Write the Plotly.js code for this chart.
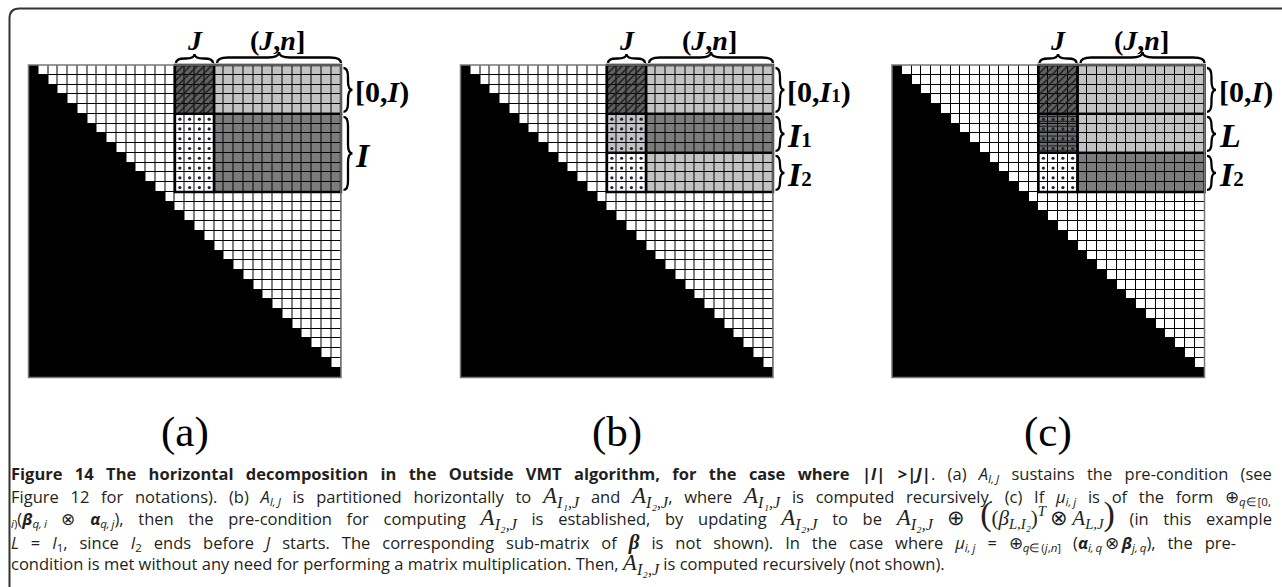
<!DOCTYPE html>
<html><head><meta charset="utf-8">
<script src="https://cdn.plot.ly/plotly-3.0.1.min.js"></script>
<style>html,body{margin:0;padding:0;background:#fff}#chart{width:1282px;height:587px}</style>
</head><body><div id="chart"></div>
<script>
// ---------- data ----------
const N = 32;                          // matrix size (cells per side)
const colBounds = [15, 19, 32];        // J starts, (J,n] starts, n
const rowBounds = [[0,5,13],[0,5,9,13],[0,5,9,13]];   // row groups per panel
const rowLabels = [['[0,I)','I'],['[0,I1)','I1','I2'],['[0,I)','L','I2']];
const topLabels = ['J','(J,n]'];
const panelLabels = ['(a)','(b)','(c)'];
// fill of the J column block and the (J,n] block for each row group
const jFill  = [['hatch','dots'],['hatch','grayDots','dots'],['hatch','hlineDots','dots']];
const jnFill = [['light','dark'],['light','dark','light'],['light','light','dark']];

// ---------- geometry ----------
const W = 1282, H = 587;
const panelLeft = [28.5, 460.5, 892];
const side = 312.5, topY = 65;
const cell = side / N;
const px = x => x / W, py = y => 1 - y / H;

const zOf = {white:1, light:2, dark:3, hatch:4, dots:1, grayDots:2, hlineDots:5};
const colorscale = [[0,'#000'],[0.1,'#000'],[0.1,'#fff'],[0.3,'#fff'],[0.3,'#c2c2c2'],[0.5,'#c2c2c2'],
  [0.5,'#7c7c7c'],[0.7,'#7c7c7c'],[0.7,'#626262'],[0.9,'#626262'],[0.9,'#6f6f6f'],[1,'#6f6f6f']];

const traces = [], shapes = [], annotations = [];
const layout = {width:W, height:H, margin:{l:0,r:0,t:0,b:0}, paper_bgcolor:'#fff', plot_bgcolor:'#000',
  showlegend:false, hovermode:false, barmode:'overlay'};

function fmt(s, size){
  return '<b>' + s.replace(/([IJLn])(\d?)/g, (m,l,d) => `<i>${l}</i>` + (d ? `<span style="font-size:${Math.round(size*0.62)}px">${d}</span>` : '')) + '</b>';
}
function pathStr(cmds){
  return cmds.map(c => {
    const pts = [];
    for (let i = 1; i < c.length; i += 2) pts.push(px(c[i]).toFixed(5) + ',' + py(c[i+1]).toFixed(5));
    return c[0] + ' ' + pts.join(' ');
  }).join(' ');
}
function hBrace(x0,x1,yb,h){
  const xm=(x0+x1)/2, r=Math.min(h,(x1-x0)/4), ym=yb-h/2, yt=yb-h;
  return pathStr([['M',x0,yb],['Q',x0,ym,x0+r,ym],['L',xm-r,ym],['Q',xm,ym,xm,yt],['Q',xm,ym,xm+r,ym],['L',x1-r,ym],['Q',x1,ym,x1,yb]]);
}
function vBrace(x0,w,y0,y1){
  const xm=x0+w/2, xt=x0+w, r=Math.min(w,(y1-y0)/4), ymid=(y0+y1)/2;
  return pathStr([['M',x0,y0],['Q',xm,y0,xm,y0+r],['L',xm,ymid-r],['Q',xm,ymid,xt,ymid],['Q',xm,ymid,xm,ymid+r],['L',xm,y1-r],['Q',xm,y1,x0,y1]]);
}

for (let p = 0; p < 3; p++){
  const sfx = p === 0 ? '' : String(p+1);
  const xa = 'x'+sfx, ya = 'y'+sfx;
  const L = panelLeft[p];
  layout['xaxis'+sfx] = {domain:[px(L), px(L+side)], range:[0,N], visible:false, fixedrange:true, anchor:ya};
  layout['yaxis'+sfx] = {domain:[py(topY+side), py(topY)], range:[N,0], visible:false, fixedrange:true, anchor:xa};
  const rb = rowBounds[p];
  const z = [];
  for (let i = 0; i < N; i++){
    const row = [];
    for (let j = 0; j < N; j++){
      let v = j <= i ? 0 : 1;
      if (v && i < rb[rb.length-1] && j >= colBounds[0]){
        const g = rb.findIndex((b,k)=> k < rb.length-1 && i >= b && i < rb[k+1]);
        v = j < colBounds[1] ? zOf[jFill[p][g]] : zOf[jnFill[p][g]];
      }
      row.push(v);
    }
    z.push(row);
  }
  const centers = Array.from({length:N}, (_,k)=> k+0.5);
  traces.push({type:'heatmap', x:centers, y:centers, z:z, zmin:0, zmax:5, colorscale:colorscale,
    showscale:false, xgap:1, ygap:1, xaxis:xa, yaxis:ya, hoverinfo:'skip'});
  const dx = [], dy = [];
  for (let g = 0; g < rb.length-1; g++){
    const f = jFill[p][g];
    if (f === 'hatch' || f === 'hlineDots'){
      traces.push({type:'bar', x:[(colBounds[0]+colBounds[1])/2], y:[rb[g+1]-rb[g]], base:[rb[g]],
        width:[colBounds[1]-colBounds[0]], xaxis:xa, yaxis:ya, hoverinfo:'skip',
        marker:{color:'rgba(0,0,0,0)', line:{width:0},
          pattern: f==='hatch' ? {shape:'/', fgcolor:'#1e1e1e', bgcolor:'rgba(0,0,0,0)', size:5, solidity:0.3}
                               : {shape:'-', fgcolor:'#1e1e1e', bgcolor:'rgba(0,0,0,0)', size:4.9, solidity:0.25}}});
    }
    if (f.toLowerCase().includes('dots')){
      for (let i = rb[g]; i < rb[g+1]; i++) for (let j = colBounds[0]; j < colBounds[1]; j++){ dx.push(j+0.5); dy.push(i+0.55); }
    }
    [[colBounds[0],colBounds[1]],[colBounds[1],colBounds[2]]].forEach(([c0,c1])=>{
      shapes.push({type:'rect', xref:xa+' domain', yref:ya+' domain', x0:c0/N, x1:c1/N, y0:1-rb[g+1]/N, y1:1-rb[g]/N,
        line:{color:'#000', width:2.4}, fillcolor:'rgba(0,0,0,0)', layer:'above'});
    });
    const y0 = topY + rb[g]*cell + 3, y1 = topY + rb[g+1]*cell - 2;
    shapes.push({type:'path', xref:'paper', yref:'paper', path:vBrace(L+side+2.5, 9, y0, y1), line:{color:'#000', width:2.3}});
    const lab = rowLabels[p][g];
    const lsz = lab.length <= 2 ? 34 : 30;
    annotations.push({xref:'paper', yref:'paper', x:px(L+side+12), y:py((y0+y1)/2+2), xanchor:'left', yanchor:'middle',
      text:fmt(lab, lsz), showarrow:false, font:{family:'Liberation Serif', size:lsz, color:'#000'}});
  }
  traces.push({type:'scatter', mode:'markers', x:dx, y:dy, xaxis:xa, yaxis:ya, hoverinfo:'skip',
    marker:{size:3.2, color:'#18233c'}});
  shapes.push({type:'rect', xref:xa+' domain', yref:ya+' domain', x0:0, x1:1, y0:0, y1:1, line:{color:'#777', width:1.5}, layer:'above'});
  const jx0 = L + colBounds[0]*cell, jx1 = L + colBounds[1]*cell, nx1 = L + colBounds[2]*cell;
  shapes.push({type:'path', xref:'paper', yref:'paper', path:hBrace(jx0+1, jx1-1, 63, 9), line:{color:'#000', width:2.3}});
  shapes.push({type:'path', xref:'paper', yref:'paper', path:hBrace(jx1+3, nx1, 63, 11), line:{color:'#000', width:2.3}});
  annotations.push({xref:'paper', yref:'paper', x:px((jx0+jx1)/2), y:py(41), xanchor:'center', yanchor:'middle',
    text:fmt(topLabels[0], 28), showarrow:false, font:{family:'Liberation Serif', size:28, color:'#000'}});
  annotations.push({xref:'paper', yref:'paper', x:px((jx1+nx1)/2), y:py(41), xanchor:'center', yanchor:'middle',
    text:fmt(topLabels[1], 28), showarrow:false, font:{family:'Liberation Serif', size:28, color:'#000'}});
  annotations.push({xref:'paper', yref:'paper', x:px(L+side/2), y:py(432), xanchor:'center', yanchor:'middle',
    text:panelLabels[p], showarrow:false, font:{family:'Liberation Serif', size:43, color:'#000'}});
}

const fr = 10;
shapes.push({type:'path', xref:'paper', yref:'paper', line:{color:'#333', width:2},
  path: pathStr([['M',9.5,600],['L',9.5,8.5+fr],['Q',9.5,8.5,9.5+fr,8.5],['L',1290,8.5]])});

const T = '\u2009';   // thin space (not stretched by justification)
const MA = s => `<span style="font-family:'Liberation Serif';font-size:23px"><i>A</i><sub><i>${s}</i></sub></span>`;
const SERIF = s => `<span style="font-family:'Liberation Serif';font-size:21px">${s}</span>`;
const BIG = s => `<span style="font-family:'Liberation Serif';font-size:34px">${s}</span>`;
const captionLines = [
  `<b>Figure 14 The horizontal decomposition in the Outside VMT algorithm, for the case where |<i>I</i>| &gt;|<i>J</i>|</b>. (a) <i>A</i><sub><i>I,${T}J</i></sub> sustains the pre-condition (see`,
  `Figure 12 for notations). (b) <i>A</i><sub><i>I,${T}J</i></sub> is partitioned horizontally to ${MA('I₁,J')} and ${MA('I₂,J')}, where ${MA('I₁,J')} is computed recursively. (c) If <i>μ</i><sub><i>i,${T}j</i></sub> is of the form ⊕<sub><i>q</i>∈${T}[0,</sub>`,
  `<sub><i>i</i>)</sub>(<b><i>β</i></b><sub><i>q,${T}i</i></sub> ⊗ <b><i>α</i></b><sub><i>q,${T}j</i></sub>), then the pre-condition for computing ${MA('I₂,J')} is established, by updating ${MA('I₂,J')} to be ${MA('I₂,J')} ${SERIF('⊕')} ${BIG('(')}${SERIF(`(<i>β</i><sub><i>L,I₂</i></sub>)<sup><i>T</i></sup>${T}⊗${T}<i>A</i><sub><i>L,J</i></sub>`)}${BIG(')')} (in this example`,
  `<i>L</i> = <i>I</i><sub>1</sub>, since <i>I</i><sub>2</sub> ends before <i>J</i> starts. The corresponding sub-matrix of ${SERIF('<b><i>β</i></b>')} is not shown). In the case where <i>μ</i><sub><i>i,${T}j</i></sub> = ⊕<sub><i>q</i>∈${T}(<i>j</i>,<i>n</i>]</sub> (<b><i>α</i></b><sub><i>i,${T}q</i></sub>${T}⊗${T}<b><i>β</i></b><sub><i>j,${T}q</i></sub>), the pre-`,
  `condition is met without any need for performing a matrix multiplication. Then, ${MA('I₂,J')} is computed recursively (not shown).`
];
const captionY = [474, 497, 514, 542, 564];
const captionRight = [1272, 1271, 1272, 1236, null];   // justified right edges
const capStart = annotations.length;
captionLines.forEach((t,k)=>{
  annotations.push({xref:'paper', yref:'paper', x:px(9), y:py(captionY[k]), xanchor:'left', yanchor:'middle',
    text:t, showarrow:false, align:'left', font:{family:'Open Sans', size:16.5, color:'#231f20'}});
});

layout.shapes = shapes;
layout.annotations = annotations;
Plotly.newPlot('chart', traces, layout, {staticPlot:true, displayModeBar:false}).then(gd => {
  const gr = gd.getBoundingClientRect();
  const upd = {};
  captionLines.forEach((t,k)=>{
    if (!captionRight[k]) return;
    const idx = capStart + k;
    const el = gd.querySelector(`g.annotation[data-index="${idx}"] text.annotation-text`);
    if (!el) return;
    const right = el.getBoundingClientRect().right - gr.left;
    const spaces = (t.replace(/<[^>]*>/g,'').match(/ /g) || []).length;
    const ws = Math.max(0, (captionRight[k] - right) / spaces);
    upd[`annotations[${idx}].text`] = `<span style="word-spacing:${ws.toFixed(2)}px">${t}</span>`;
  });
  return Plotly.relayout(gd, upd);
});
</script></body></html>
